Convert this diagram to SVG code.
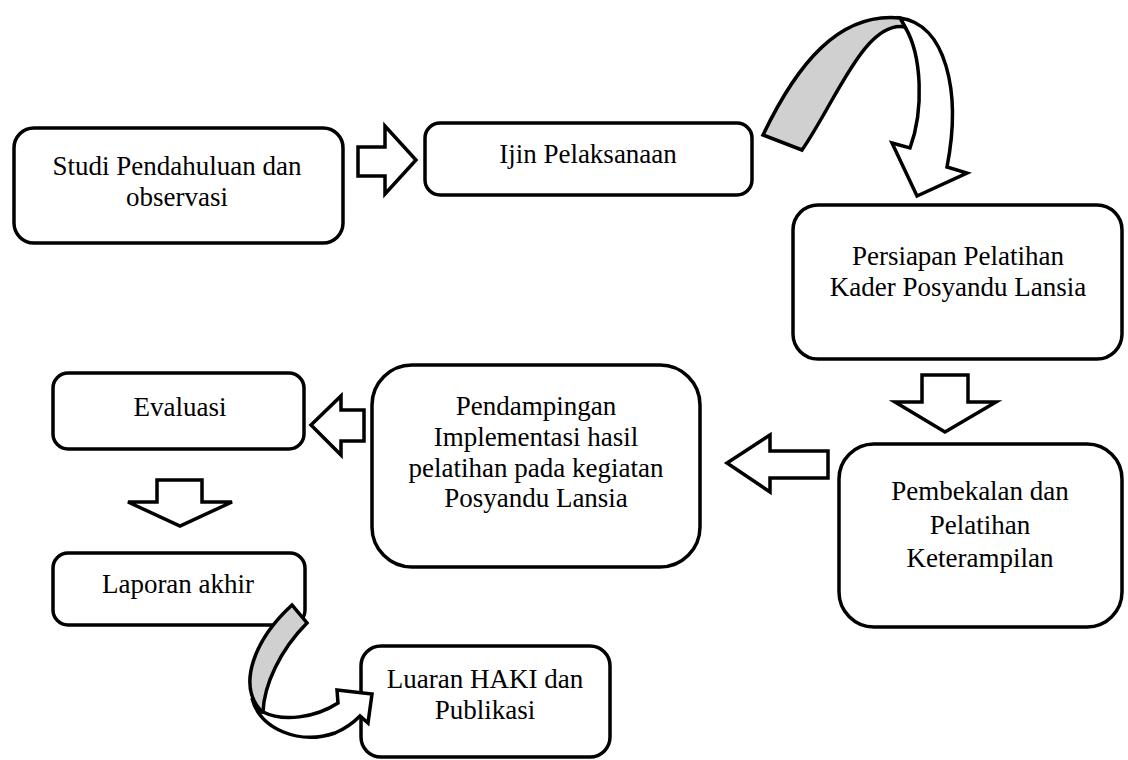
<svg xmlns="http://www.w3.org/2000/svg" width="1128" height="760" viewBox="0 0 1128 760">
<style>
.box{fill:#fff;stroke:#000;stroke-width:3.5}
.blk{fill:#fff;stroke:#000;stroke-width:3.5;stroke-linejoin:miter}
.gray{fill:#d0d0d0;stroke:#000;stroke-width:3.5;stroke-linejoin:miter}
.t{font-family:"Liberation Serif","Times New Roman",serif;font-size:27px;fill:#000;text-anchor:middle}
</style>
<rect width="1128" height="760" fill="#fff"/>
<g id="n1"><rect class="box" x="14" y="128" width="329" height="115" rx="20"/>
<text class="t" x="177" y="175">Studi Pendahuluan dan</text><text class="t" x="177" y="206">observasi</text></g>
<g id="n2"><rect class="box" x="425" y="123" width="327" height="72" rx="15"/>
<text class="t" x="588" y="163">Ijin Pelaksanaan</text></g>
<g id="n3"><rect class="box" x="793" y="205" width="329" height="154" rx="25"/>
<text class="t" x="958" y="265">Persiapan Pelatihan</text><text class="t" x="958" y="296">Kader Posyandu Lansia</text></g>
<g id="n4"><rect class="box" x="839" y="444" width="283" height="183" rx="35"/>
<text class="t" x="980" y="500">Pembekalan dan</text><text class="t" x="980" y="534">Pelatihan</text><text class="t" x="980" y="567">Keterampilan</text></g>
<g id="n5"><rect class="box" x="372" y="365" width="328" height="202" rx="40"/>
<text class="t" x="536" y="415">Pendampingan</text><text class="t" x="536" y="446">Implementasi hasil</text><text class="t" x="536" y="477">pelatihan pada kegiatan</text><text class="t" x="536" y="507">Posyandu Lansia</text></g>
<g id="n6"><rect class="box" x="53" y="373" width="251" height="76" rx="15"/>
<text class="t" x="180" y="416">Evaluasi</text></g>
<g id="n7"><rect class="box" x="53" y="553" width="252" height="72" rx="15"/>
<text class="t" x="178" y="593">Laporan akhir</text></g>
<g id="n8"><rect class="box" x="361" y="646" width="249" height="111" rx="20"/>
<text class="t" x="485" y="688">Luaran HAKI dan</text><text class="t" x="485" y="719">Publikasi</text></g>
<g id="connectors">
<polygon class="blk" points="358,147 385,147 385,126 416,160 385,194 385,176 358,176"/>
<polygon class="blk" points="922,375 968,375 968,402 996,402 945,432 895,402 922,402"/>
<polygon class="blk" points="828,451 770,451 770,435 727,463 770,492 770,478 828,478"/>
<polygon class="blk" points="364,410 341,410 341,396 311,425 341,455 341,441 364,441"/>
<polygon class="blk" points="157,480 202,480 202,502 232,502 180,526 128,502 157,502"/>
<path class="blk" d="M900,18 C945,24 962,90 947,167 L967,173 L917,196 L892,143 L910,148 C924,110 922,55 905,27 Z"/>
<path class="gray" d="M763,135 C797,64 839,12 900,18 L905,27 C865,20 836,101 802,150 Z"/>
<path class="blk" d="M252,698 C260,730 300,745 335,733 C347,728 355,721 360,716 L368,723 L372,694 L337,690 L338,703 C315,718 283,722 263,712 Z"/>
<path class="gray" d="M292,605 C255,639 236,685 262,712 L263,712 C264,685 280,650 307,623 Z"/>
</g>
</svg>
